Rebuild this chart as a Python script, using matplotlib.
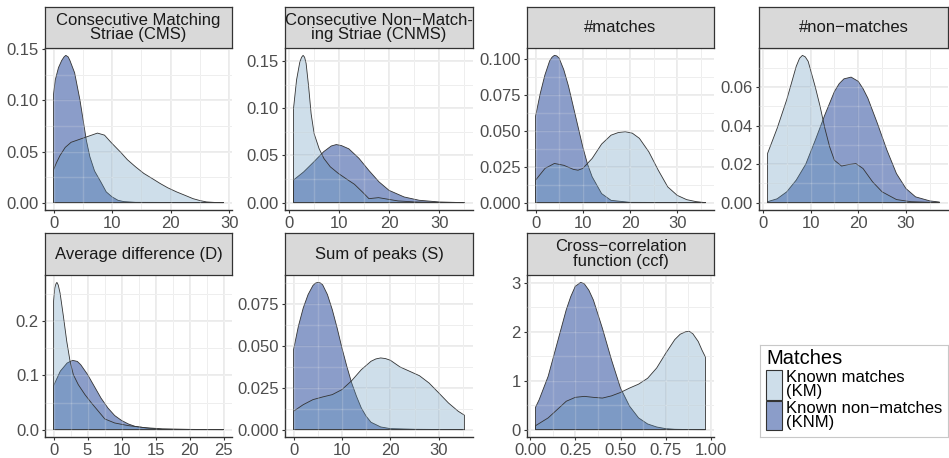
import numpy as np
import matplotlib
matplotlib.use("Agg")
import matplotlib.pyplot as plt
from matplotlib.colors import to_rgba
from matplotlib.patches import Rectangle
from matplotlib.ticker import FixedLocator, AutoMinorLocator

plt.rcParams['font.family'] = ['Liberation Sans', 'DejaVu Sans']

# density curves, KM = known matches, KNM = known non-matches
cms_km_x = [0, 0.5, 1.1, 2.0, 3.0, 4.5, 6.0, 7.5, 8.7, 9.8, 11.5, 12.6, 14, 15.4, 17, 18.2, 19.5, 21, 22.5, 23.8, 25, 26.1, 27.5, 29]
cms_km_y = [0.032, 0.039, 0.046, 0.054, 0.059, 0.062, 0.065, 0.068, 0.066, 0.059, 0.049, 0.042, 0.035, 0.0286, 0.023,
            0.0187, 0.0145, 0.0105, 0.007, 0.0039, 0.002, 0.0007, 0.0002, 0.0]
cms_knm_x = [0, 0.3, 0.85, 1.4, 1.8, 2.1, 2.5, 2.8, 3.6, 4.5, 5.05, 5.6, 6.2, 7.0, 8.1, 9.0, 10.0, 11.0, 12.0, 14.0, 29]
cms_knm_y = [0.1056, 0.12, 0.132, 0.139, 0.1425, 0.144, 0.1425, 0.139, 0.127, 0.1007, 0.081, 0.061, 0.045, 0.031,
             0.020, 0.0105, 0.0056, 0.0023, 0.001, 0.0003, 0.0]

cnms_km_x = [1, 1.6, 2.25, 2.6, 2.9, 3.2, 3.5, 4.0, 4.5, 5.1, 6.1, 7.05, 8.3, 9.9, 11.9, 13.1, 14.7, 16.0, 17.9, 19.9,
             21.8, 25.3, 30, 35]
cnms_km_y = [0.100, 0.130, 0.149, 0.154, 0.156, 0.154, 0.1475, 0.123, 0.094, 0.073, 0.057, 0.0467, 0.038, 0.031,
             0.0237, 0.0195, 0.0113, 0.0042, 0.0053, 0.0035, 0.0018, 0.0007, 0.0002, 0.0]
cnms_knm_x = [1, 3, 5, 7, 8.5, 9.5, 10.5, 12, 14, 16, 18, 20, 23, 26, 30, 35]
cnms_knm_y = [0.024, 0.0325, 0.043, 0.054, 0.060, 0.0615, 0.0605, 0.057, 0.047, 0.034, 0.022, 0.013, 0.006, 0.0025,
              0.0007, 0.0]

mat_km_x = [0, 2, 4, 6, 8, 9, 10, 12, 14, 16, 17.5, 19, 20.5, 22, 24, 26, 28, 30, 32, 34, 36]
mat_km_y = [0.0156, 0.0238, 0.0273, 0.026, 0.0232, 0.0226, 0.0238, 0.0308, 0.0408, 0.047, 0.0488, 0.0494, 0.0484,
            0.0448, 0.0354, 0.0226, 0.011, 0.0051, 0.0021, 0.0007, 0]
mat_knm_x = [0, 1, 2, 3, 3.5, 4, 4.5, 5, 6, 7, 8, 9, 10, 11, 12, 14, 16, 20, 36]
mat_knm_y = [0.060, 0.076, 0.089, 0.0988, 0.1013, 0.1026, 0.1022, 0.1007, 0.0925, 0.081, 0.067, 0.053, 0.039, 0.027,
             0.018, 0.0063, 0.0016, 0.0002, 0]

non_km_x = [1, 3, 5, 7, 7.7, 8.3, 8.9, 9.5, 11, 12, 13, 14, 15, 16.5, 18, 19.5, 21, 23, 25, 28, 31, 37]
non_km_y = [0.0256, 0.0386, 0.0534, 0.0708, 0.0750, 0.0765, 0.0757, 0.0734, 0.060, 0.050, 0.0386, 0.029, 0.022,
            0.019, 0.0198, 0.0203, 0.0177, 0.0108, 0.0056, 0.0016, 0.0005, 0]
non_knm_x = [1, 3, 5, 7, 9, 11, 13, 15, 16, 17, 18.5, 20, 21, 22, 24, 26, 28, 30, 32, 35, 37]
non_knm_y = [0.0005, 0.002, 0.0056, 0.0117, 0.020, 0.0325, 0.0456, 0.0577, 0.0618, 0.0643, 0.0652, 0.063, 0.0592,
             0.0543, 0.0412, 0.0273, 0.0151, 0.0073, 0.003, 0.0009, 0.0003]

d_km_x = [0, 0.2, 0.35, 0.5, 0.7, 0.97, 1.46, 1.95, 2.44, 2.92, 3.65, 4.63, 5.6, 6.6, 7.55, 9.0, 11.0, 13.4, 16, 20, 25]
d_km_y = [0.236, 0.262, 0.269, 0.272, 0.267, 0.252, 0.209, 0.163, 0.126, 0.1015, 0.083, 0.0646, 0.049, 0.034,
          0.0197, 0.0123, 0.0074, 0.0037, 0.0015, 0.0005, 0]
d_knm_x = [0, 1, 2, 2.8, 3.5, 4, 5, 6, 7, 8, 9, 10, 11, 12, 14, 16, 20, 25]
d_knm_y = [0.081, 0.108, 0.123, 0.128, 0.126, 0.120, 0.102, 0.080, 0.058, 0.040, 0.026, 0.017, 0.0105, 0.006, 0.0025,
           0.0006, 0.0001, 0]

s_km_x = [0, 2, 4, 6, 8, 10, 12, 14, 16, 17, 18, 19, 20, 22, 24, 26, 28, 30, 32, 34, 35.3]
s_km_y = [0.011, 0.0149, 0.0179, 0.0195, 0.0209, 0.0239, 0.0292, 0.0358, 0.0408, 0.0422, 0.0428, 0.0424, 0.0414,
          0.0374, 0.0348, 0.0322, 0.0278, 0.0219, 0.0159, 0.011, 0.0086]
s_knm_x = [0, 1, 2, 3, 4, 4.5, 5, 5.5, 6, 7, 8, 9, 10, 11, 12, 13, 14, 15, 16, 18, 20, 25, 35.3]
s_knm_y = [0.0477, 0.0617, 0.0726, 0.0806, 0.086, 0.0874, 0.0879, 0.0876, 0.0865, 0.0806, 0.0716, 0.0607, 0.0487,
           0.0378, 0.0279, 0.0199, 0.0129, 0.008, 0.0044, 0.0016, 0.0006, 0.0002, 0]

ccf_km_x = [0.03, 0.1, 0.15, 0.2, 0.25, 0.3, 0.35, 0.4, 0.45, 0.5, 0.55, 0.6, 0.65, 0.7, 0.75, 0.8, 0.83, 0.86,
            0.88, 0.9, 0.93, 0.95, 0.97]
ccf_km_y = [0.08, 0.24, 0.41, 0.58, 0.66, 0.68, 0.66, 0.645, 0.69, 0.76, 0.85, 0.93, 1.05, 1.26, 1.56, 1.84, 1.95,
            2.0, 2.01, 1.96, 1.80, 1.63, 1.48]
ccf_knm_x = [0.03, 0.05, 0.1, 0.15, 0.2, 0.225, 0.25, 0.28, 0.3, 0.325, 0.35, 0.4, 0.45, 0.5, 0.55, 0.6, 0.65, 0.7,
             0.75, 0.8, 0.9, 0.97]
ccf_knm_y = [0.456, 0.61, 1.09, 1.77, 2.45, 2.72, 2.93, 3.01, 2.98, 2.85, 2.65, 2.07, 1.43, 0.85, 0.48, 0.24, 0.116,
             0.054, 0.02, 0.007, 0.001, 0]

titles = ["Consecutive Matching\nStriae (CMS)", "Consecutive Non\u2212Match-\ning Striae (CNMS)", "#matches",
          "#non\u2212matches", "Average difference (D)", "Sum of peaks (S)", "Cross\u2212correlation\nfunction (ccf)"]
legend_title = "Matches"
legend_labels = ["Known matches\n(KM)", "Known non\u2212matches\n(KNM)"]

W, H = 949, 458
cols = [(45, 232), (285, 473), (527, 714), (759, 948)]
rows = [(7, 48, 210), (233, 275, 437)]

KM_FILL = to_rgba('#5f94bc', 0.3)
KNM_FILL = to_rgba('#5a74b2', 0.7)
EDGE = '#333333'


def px_axes(fig, left, top, right, bottom):
    return fig.add_axes([left / W, 1 - bottom / H, (right - left) / W, (bottom - top) / H])


def density(ax, x, y, fc):
    x = np.asarray(x, float)
    y = np.asarray(y, float)
    ax.fill(np.r_[x[0], x, x[-1]], np.r_[0, y, 0], facecolor=fc, edgecolor=EDGE, linewidth=0.6,
            joinstyle='round', zorder=2)


panels = [
    (cms_km_x, cms_km_y, cms_knm_x, cms_knm_y, [0, 10, 20, 30], '{:.0f}', [0, 0.05, 0.10, 0.15], '{:.2f}'),
    (cnms_km_x, cnms_km_y, cnms_knm_x, cnms_knm_y, [0, 10, 20, 30], '{:.0f}', [0, 0.05, 0.10, 0.15], '{:.2f}'),
    (mat_km_x, mat_km_y, mat_knm_x, mat_knm_y, [0, 10, 20, 30], '{:.0f}', [0, 0.025, 0.05, 0.075, 0.1], '{:.3f}'),
    (non_km_x, non_km_y, non_knm_x, non_knm_y, [0, 10, 20, 30], '{:.0f}', [0, 0.02, 0.04, 0.06], '{:.2f}'),
    (d_km_x, d_km_y, d_knm_x, d_knm_y, [0, 5, 10, 15, 20, 25], '{:.0f}', [0, 0.1, 0.2], '{:.1f}'),
    (s_km_x, s_km_y, s_knm_x, s_knm_y, [0, 10, 20, 30], '{:.0f}', [0, 0.025, 0.05, 0.075], '{:.3f}'),
    (ccf_km_x, ccf_km_y, ccf_knm_x, ccf_knm_y, [0, 0.25, 0.5, 0.75, 1.0], '{:.2f}', [0, 1, 2, 3], '{:.0f}'),
]

fig = plt.figure(figsize=(W / 100, H / 100), dpi=100)

for i, (kmx, kmy, knmx, knmy, xt, xf, yt, yf) in enumerate(panels):
    left, right = cols[i % 4]
    stop, ptop, pbot = rows[i // 4]
    ax = px_axes(fig, left, ptop, right, pbot)

    density(ax, knmx, knmy, KNM_FILL)
    density(ax, kmx, kmy, KM_FILL)

    xmin = min(kmx[0], knmx[0])
    xmax = max(kmx[-1], knmx[-1])
    ymax = max(max(kmy), max(knmy))
    ax.set_xlim(xmin - 0.05 * (xmax - xmin), xmax + 0.05 * (xmax - xmin))
    ax.set_ylim(-0.05 * ymax, 1.05 * ymax)

    ax.xaxis.set_major_locator(FixedLocator(xt))
    ax.set_xticklabels([xf.format(v) for v in xt])
    ax.yaxis.set_major_locator(FixedLocator(yt))
    ax.set_yticklabels([yf.format(v) for v in yt])
    ax.xaxis.set_minor_locator(AutoMinorLocator(2))
    ax.yaxis.set_minor_locator(AutoMinorLocator(2))

    ax.set_axisbelow(True)
    ax.grid(which='major', color='#ebebeb', linewidth=1.4)
    ax.grid(which='minor', color='#ebebeb', linewidth=0.7)
    # faint grid showing through the fills
    for v in list(ax.get_xticks()) + list(ax.xaxis.get_minorticklocs()):
        ax.axvline(v, color='white', alpha=0.2, linewidth=1.0, zorder=3)
    for v in list(ax.get_yticks()) + list(ax.yaxis.get_minorticklocs()):
        ax.axhline(v, color='white', alpha=0.2, linewidth=1.0, zorder=3)

    for s in ('top', 'right'):
        ax.spines[s].set_visible(False)
    for s in ('left', 'bottom'):
        ax.spines[s].set_color(EDGE)
        ax.spines[s].set_linewidth(1.0)
    ax.tick_params(which='major', length=2.4, width=0.8, color=EDGE, labelsize=12, labelcolor='#4d4d4d', pad=2)
    ax.tick_params(which='minor', length=0)

    sax = px_axes(fig, left, stop, right, ptop)
    sax.set_facecolor('#d9d9d9')
    sax.set_xticks([])
    sax.set_yticks([])
    for s in sax.spines.values():
        s.set_color(EDGE)
        s.set_linewidth(0.9)
    sax.text(0.5, 0.5, titles[i], ha='center', va='center', fontsize=12, color='#1a1a1a',
             linespacing=0.95, transform=sax.transAxes)

# legend drawn by hand in pixel units of its box
lax = px_axes(fig, 760, 345, 948, 437)
lax.set_xlim(0, 188)
lax.set_ylim(92, 0)
lax.set_xticks([])
lax.set_yticks([])
for s in lax.spines.values():
    s.set_color('#c8c8c8')
    s.set_linewidth(0.8)
lax.text(6, 14, legend_title, fontsize=14.5, va='center', ha='left', color='black')
for k, (fc, lab) in enumerate(zip([KM_FILL, KNM_FILL], legend_labels)):
    y0 = 25 + k * 30.5
    lax.add_patch(Rectangle((6, y0), 16, 29.5, facecolor=fc, edgecolor=EDGE, linewidth=0.8))
    lax.text(26, y0 + 14.8, lab, fontsize=12, va='center', ha='left', color='black', linespacing=0.9)

fig.savefig("out.png", dpi=100)
